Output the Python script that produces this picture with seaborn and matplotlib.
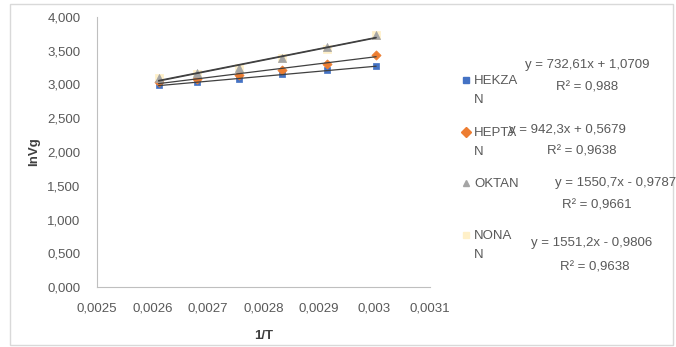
import matplotlib
matplotlib.use("Agg")
import matplotlib.pyplot as plt
import seaborn as sns
import numpy as np
import pandas as pd
from matplotlib.lines import Line2D
from matplotlib.legend_handler import HandlerLine2D
from matplotlib.ticker import FuncFormatter

# ---- data ----
inv_T = [0.002611, 0.002681, 0.002755, 0.002833, 0.002915, 0.003003]
hekzan = [2.99, 3.03, 3.08, 3.15, 3.21, 3.27]
heptan = [3.04, 3.08, 3.14, 3.22, 3.31, 3.44]
oktan = [3.10, 3.17, 3.25, 3.40, 3.55, 3.73]
nonan = [3.09, 3.16, 3.25, 3.39, 3.53, 3.73]

series_names = ["HEKZAN", "HEPTAN", "OKTAN", "NONAN"]
legend_labels = ["HEKZA\nN", "HEPTA\nN", "OKTAN\n ", "NONA\nN"]
eq_lines = ["y = 732,61x + 1,0709", "y = 942,3x + 0,5679",
            "y = 1550,7x - 0,9787", "y = 1551,2x - 0,9806"]
r2_lines = ["R² = 0,988", "R² = 0,9638", "R² = 0,9661", "R² = 0,9638"]
x_ticks = [0.0025, 0.0026, 0.0027, 0.0028, 0.0029, 0.003, 0.0031]
x_tick_labels = ["0,0025", "0,0026", "0,0027", "0,0028", "0,0029", "0,003", "0,0031"]
y_ticks = [0.0, 0.5, 1.0, 1.5, 2.0, 2.5, 3.0, 3.5, 4.0]

colors = ["#4472C4", "#ED7D31", "#A5A5A5", "#FFF0C8"]
markers = ["s", "D", "^", "s"]
msizes = [22, 22, 34, 34]
zorders = [4, 4, 4, 2]

sns.set_style("white")
plt.rcParams['font.family'] = ['Liberation Sans', 'DejaVu Sans']

W, H = 676, 347
fig = plt.figure(figsize=(6.76, 3.47), dpi=100)
ax = fig.add_axes([97 / W, 1 - 287 / H, (430 - 97) / W, 270 / H])

df = pd.DataFrame({"x": inv_T * 4,
                   "y": hekzan + heptan + oktan + nonan,
                   "s": sum([[n] * len(inv_T) for n in series_names], [])})

for name, c, m, ms, z in zip(series_names, colors, markers, msizes, zorders):
    sub = df[df.s == name]
    sns.scatterplot(data=sub, x="x", y="y", color=c, marker=m, s=ms,
                    edgecolor=c, linewidth=0.5, ax=ax, zorder=z, legend=False)
for name in series_names:
    sub = df[df.s == name]
    sns.regplot(data=sub, x="x", y="y", scatter=False, ci=None, ax=ax,
                line_kws=dict(color="#404040", lw=0.9, zorder=5))

ax.set_xlim(0.0025, 0.0031)
ax.set_ylim(0, 4.0)
ax.set_xticks(x_ticks)
ax.set_xticklabels(x_tick_labels)
ax.set_yticks(y_ticks)
ax.yaxis.set_major_formatter(FuncFormatter(lambda v, p: f"{v:.3f}".replace(".", ",")))
ax.tick_params(axis="both", labelsize=9.5, colors="#595959", length=4, width=0.6,
               direction="out")
ax.tick_params(axis="y", pad=8)
ax.tick_params(axis="x", pad=7)
ax.tick_params(axis="both", color="#BFBFBF")
for s in ["top", "right"]:
    ax.spines[s].set_visible(False)
for s in ["left", "bottom"]:
    ax.spines[s].set_color("#BFBFBF")
    ax.spines[s].set_linewidth(0.8)
ax.set_xlabel("1/T", fontsize=9.5, fontweight="bold", color="#404040", labelpad=11)
ax.set_ylabel("lnVg", fontsize=9.5, fontweight="bold", color="#404040", labelpad=5)


class TopHandler(HandlerLine2D):
    def create_artists(self, legend, orig_handle, xdescent, ydescent, width,
                       height, fontsize, trans):
        return super().create_artists(legend, orig_handle, xdescent,
                                      ydescent - 15.0, width, height, fontsize, trans)


handles = [Line2D([], [], linestyle="none", marker=m, color=c, markersize=5)
           for c, m in zip(colors, markers)]
leg = fig.legend(handles, legend_labels, loc="upper left",
                 bbox_to_anchor=(462 / W, 1 - 75 / H), frameon=False, fontsize=9.5,
                 labelcolor="#595959", handlelength=0.6, handletextpad=0.3,
                 labelspacing=1.55, borderaxespad=0, borderpad=0,
                 handler_map={Line2D: TopHandler()})
for t in leg.get_texts():
    t.set_linespacing(1.8)

eq_xy = [(587, 65), (567, 130), (616, 183), (592, 243)]
r2_xy = [(587, 88), (582, 152), (597, 205), (595, 268)]
for (xp, yp), t in zip(eq_xy, eq_lines):
    fig.text(xp / W, 1 - yp / H, t, ha="center", va="center", fontsize=9.5, color="#595959")
for (xp, yp), t in zip(r2_xy, r2_lines):
    fig.text(xp / W, 1 - yp / H, t, ha="center", va="center", fontsize=9.5, color="#595959")

fig.patches.append(plt.Rectangle((10 / W, 2 / H), 663 / W, 341 / H, transform=fig.transFigure,
                                 fill=False, edgecolor="#D9D9D9", lw=1))

fig.savefig("out.png", dpi=100, facecolor="white")
